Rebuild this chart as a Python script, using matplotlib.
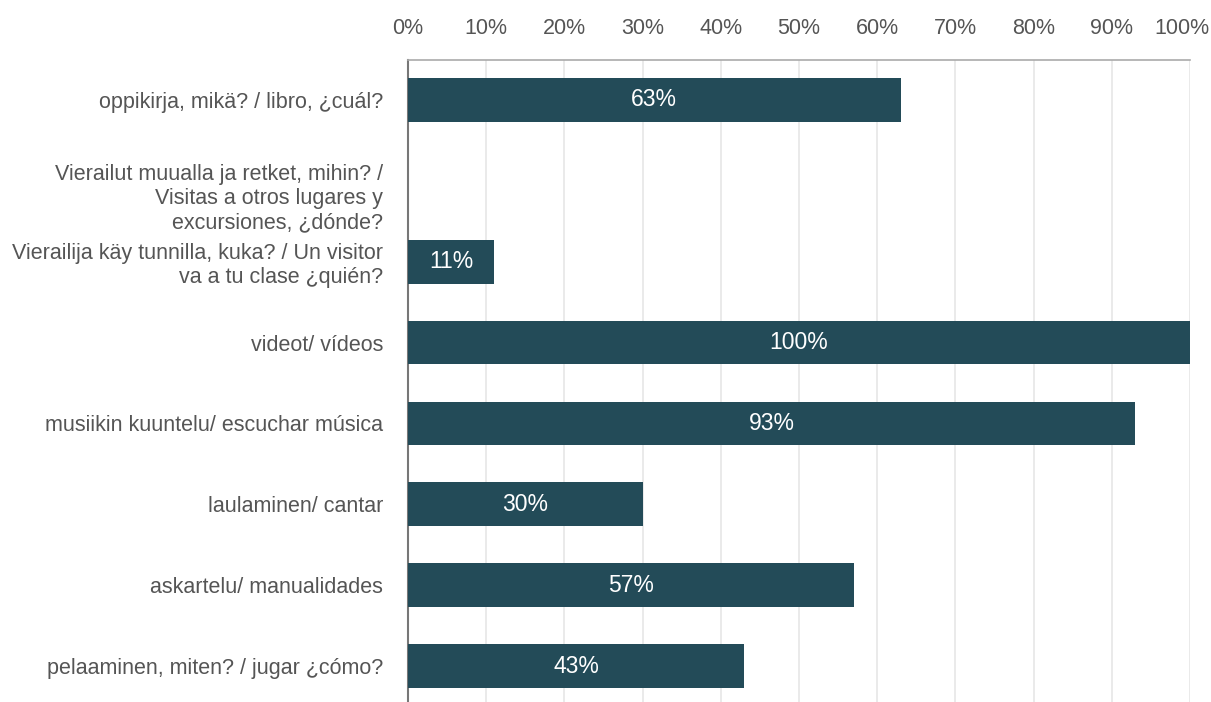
import matplotlib
matplotlib.use("Agg")
import matplotlib.pyplot as plt
import matplotlib.transforms as mtransforms
from matplotlib.ticker import MultipleLocator, FuncFormatter

plt.rcParams['font.family'] = ['Liberation Sans', 'DejaVu Sans']

# vastaukset / respuestas
labels = [
    "oppikirja, mikä? / libro, ¿cuál?",
    "Vierailut muualla ja retket, mihin? /\nVisitas a otros lugares y\nexcursiones, ¿dónde?",
    "Vierailija käy tunnilla, kuka? / Un visitor\nva a tu clase ¿quién?",
    "videot/ vídeos",
    "musiikin kuuntelu/ escuchar música",
    "laulaminen/ cantar",
    "askartelu/ manualidades",
    "pelaaminen, miten? / jugar ¿cómo?",
]
values = [63, 0, 11, 100, 93, 30, 57, 43]

bar_color = "#234b58"
text_gray = "#555555"

fig = plt.figure(figsize=(12.11, 7.02), dpi=100)
ax = fig.add_axes([0.3369, -0.0064, 0.6458, 0.9216])

y = list(range(len(labels)))
ax.barh(y, values, height=0.54, color=bar_color, zorder=3)

for yi, v in zip(y, values):
    if v > 0:
        ax.text(v / 2, yi, f"{v}%", ha="center", va="center",
                color="white", fontsize=16.5, zorder=4)

ax.set_xlim(0, 100)
ax.set_ylim(len(labels) - 0.5, -0.5)
ax.set_yticks(y)
ax.set_yticklabels(labels, fontsize=15.5, color=text_gray, linespacing=1.2)

ax.xaxis.set_major_locator(MultipleLocator(10))
ax.xaxis.set_major_formatter(FuncFormatter(lambda x, p: f"{int(x)}%"))
ax.xaxis.tick_top()
ax.tick_params(axis="x", length=0, pad=15, labelsize=15.5, labelcolor=text_gray)
ax.tick_params(axis="y", length=0, pad=18)

ax.grid(axis="x", color="#e6e6e6", linewidth=1.2, zorder=0)
for s in ["right", "bottom"]:
    ax.spines[s].set_visible(False)
ax.spines["left"].set_color("#777777")
ax.spines["left"].set_linewidth(1.5)
ax.spines["top"].set_color("#aaaaaa")
ax.spines["top"].set_linewidth(1.2)

# nudge the 100% tick label inside the canvas, drop the 3-line label a bit
fig.canvas.draw()
for t in ax.xaxis.get_major_ticks():
    if abs(t.get_loc() - 100) < 1e-6:
        t.label2.set_transform(t.label2.get_transform()
                               + mtransforms.ScaledTranslation(-0.08, 0, fig.dpi_scale_trans))
yt = ax.yaxis.get_major_ticks()[1].label1
yt.set_transform(yt.get_transform() + mtransforms.ScaledTranslation(0, -0.14, fig.dpi_scale_trans))

fig.savefig("out.png", dpi=100)
